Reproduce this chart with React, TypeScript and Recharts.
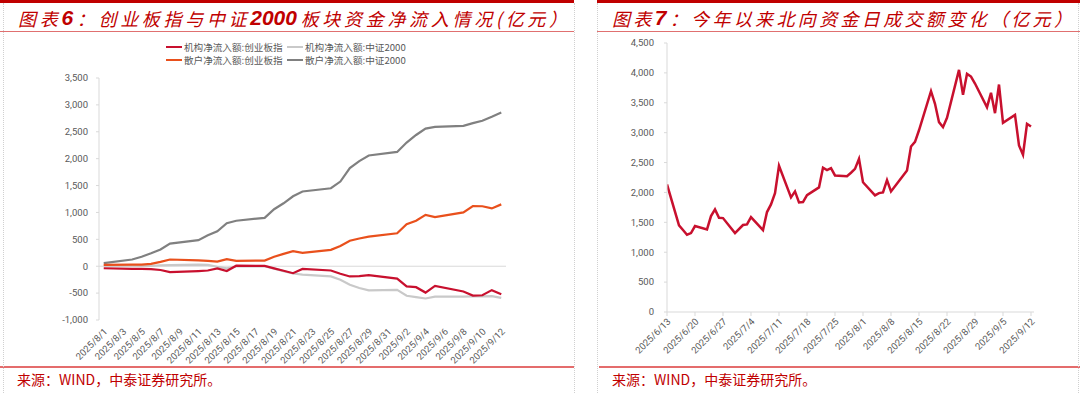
import React from "react";
import { LineChart, Line, XAxis, YAxis, ReferenceLine } from "recharts";

// ---------- Left chart data (亿元) ----------
const leftDates = [
  "2025/8/1", "2025/8/4", "2025/8/5", "2025/8/6", "2025/8/7", "2025/8/8",
  "2025/8/11", "2025/8/12", "2025/8/13", "2025/8/14", "2025/8/15",
  "2025/8/18", "2025/8/19", "2025/8/20", "2025/8/21", "2025/8/22",
  "2025/8/25", "2025/8/26", "2025/8/27", "2025/8/28", "2025/8/29",
  "2025/9/1", "2025/9/2", "2025/9/3", "2025/9/4", "2025/9/5",
  "2025/9/8", "2025/9/9", "2025/9/10", "2025/9/11", "2025/9/12",
];
const instChiNext = [-38, -48, -50, -55, -70, -110, -90, -80, -40, -90, 10, 5, -40, -85, -130, -50, -80, -140, -190, -185, -165, -230, -375, -390, -490, -365, -470, -545, -540, -445, -520];
const inst2000 = [10, 10, 5, 5, 15, 20, 30, 25, -10, -40, -5, 0, -45, -90, -135, -155, -190, -250, -345, -405, -450, -440, -550, -575, -600, -565, -565, -560, -560, -555, -590];
const retailChiNext = [25, 28, 30, 45, 80, 125, 110, 100, 85, 130, 100, 105, 175, 230, 280, 250, 305, 375, 475, 515, 550, 612, 780, 845, 955, 915, 1000, 1120, 1115, 1075, 1150];
const retail2000 = [56, 125, 175, 240, 310, 420, 485, 575, 650, 800, 845, 900, 1060, 1170, 1300, 1390, 1450, 1575, 1825, 1955, 2060, 2125, 2300, 2440, 2560, 2590, 2610, 2660, 2705, 2780, 2860];
const leftTickLabels = [
  "2025/8/1", "2025/8/3", "2025/8/5", "2025/8/7", "2025/8/9", "2025/8/11", "2025/8/13", "2025/8/15",
  "2025/8/17", "2025/8/19", "2025/8/21", "2025/8/23", "2025/8/25", "2025/8/27", "2025/8/29", "2025/8/31",
  "2025/9/2", "2025/9/4", "2025/9/6", "2025/9/8", "2025/9/10", "2025/9/12",
];
const leftYTicks = [-1000, -500, 0, 500, 1000, 1500, 2000, 2500, 3000, 3500];
const leftSeriesNames = ["机构净流入额:创业板指", "机构净流入额:中证2000", "散户净流入额:创业板指", "散户净流入额:中证2000"];

// ---------- Right chart data (亿元) ----------
const rightDates = [
  "2025/6/13", "2025/6/16", "2025/6/17", "2025/6/18", "2025/6/19", "2025/6/20",
  "2025/6/23", "2025/6/24", "2025/6/25", "2025/6/26", "2025/6/27",
  "2025/6/30", "2025/7/2", "2025/7/3", "2025/7/4",
  "2025/7/7", "2025/7/8", "2025/7/9", "2025/7/10", "2025/7/11",
  "2025/7/14", "2025/7/15", "2025/7/16", "2025/7/17", "2025/7/18",
  "2025/7/21", "2025/7/22", "2025/7/23", "2025/7/24", "2025/7/25",
  "2025/7/28", "2025/7/29", "2025/7/30", "2025/7/31", "2025/8/1",
  "2025/8/4", "2025/8/5", "2025/8/6", "2025/8/7", "2025/8/8",
  "2025/8/11", "2025/8/12", "2025/8/13", "2025/8/14", "2025/8/15",
  "2025/8/18", "2025/8/19", "2025/8/20", "2025/8/21", "2025/8/22",
  "2025/8/25", "2025/8/26", "2025/8/27", "2025/8/28", "2025/8/29",
  "2025/9/1", "2025/9/2", "2025/9/3", "2025/9/4", "2025/9/5",
  "2025/9/8", "2025/9/9", "2025/9/10", "2025/9/11", "2025/9/12",
];
const northboundTurnover = [
  2134, 1449, 1371, 1293, 1321, 1438,
  1382, 1605, 1716, 1577, 1571,
  1321, 1455, 1466, 1588,
  1371, 1672, 1800, 1989, 2446,
  1917, 2017, 1833, 1839, 1956,
  2084, 2413, 2374, 2407, 2284,
  2273, 2330, 2394, 2561, 2170,
  1950, 1989, 2000, 2207, 2017,
  2280, 2368, 2769, 2847, 3040,
  3694, 3482, 3176, 3092, 3248,
  4050, 3632, 3983, 3939, 3822,
  3426, 3666, 3326, 3805, 3165,
  3298, 2786, 2630, 3148, 3103,
];
const rightTickLabels = [
  "2025/6/13", "2025/6/20", "2025/6/27", "2025/7/4", "2025/7/11", "2025/7/18", "2025/7/25",
  "2025/8/1", "2025/8/8", "2025/8/15", "2025/8/22", "2025/8/29", "2025/9/5", "2025/9/12",
];
const rightYTicks = [0, 500, 1000, 1500, 2000, 2500, 3000, 3500, 4000, 4500];

// ---------- helpers ----------
const toUTC = (s: string) => {
  const [y, m, d] = s.split("/").map(Number);
  return Date.UTC(y, m - 1, d);
};
const dayOffset = (s: string, base: string) => Math.round((toUTC(s) - toUTC(base)) / 86400000);
const fmt = (v: number) => v.toLocaleString("en-US");

const leftBase = leftDates[0];
const leftData = leftDates.map((dt, i) => ({
  d: dayOffset(dt, leftBase),
  a: instChiNext[i],
  b: inst2000[i],
  c: retailChiNext[i],
  e: retail2000[i],
}));
const leftTicks = leftTickLabels.map((t) => dayOffset(t, leftBase));
const leftLabelMap: Record<number, string> = {};
leftTickLabels.forEach((t) => (leftLabelMap[dayOffset(t, leftBase)] = t));

const rightBase = rightDates[0];
const rightData = rightDates.map((dt, i) => ({ d: dayOffset(dt, rightBase), v: northboundTurnover[i] }));
const rightTicks = rightTickLabels.map((t) => dayOffset(t, rightBase));
const rightLabelMap: Record<number, string> = {};
rightTickLabels.forEach((t) => (rightLabelMap[dayOffset(t, rightBase)] = t));

const RED = "#C8102E";
const ORANGE = "#E9501C";
const DGRAY = "#808080";
const LGRAY = "#C9C9C9";
const TITLE_RED = "#C00000";
const AXIS = "#D9D9D9";
const TXT = "#595959";
const CJK = '"Noto Sans CJK SC", "Noto Sans", sans-serif';
const NUMF = 'Roboto, "Noto Sans", sans-serif';

type Unit = { t: string; b?: boolean };
const leftTitle: Unit[] = [
  { t: "图" }, { t: "表" }, { t: "6", b: true }, { t: "：" }, { t: "创" }, { t: "业" }, { t: "板" }, { t: "指" },
  { t: "与" }, { t: "中" }, { t: "证" }, { t: "2000", b: true }, { t: "板" }, { t: "块" }, { t: "资" }, { t: "金" },
  { t: "净" }, { t: "流" }, { t: "入" }, { t: "情" }, { t: "况" }, { t: "(" }, { t: "亿" }, { t: "元" }, { t: "）" },
];
const rightTitle: Unit[] = [
  { t: "图" }, { t: "表" }, { t: "7", b: true }, { t: "：" }, { t: "今" }, { t: "年" }, { t: "以" }, { t: "来" },
  { t: "北" }, { t: "向" }, { t: "资" }, { t: "金" }, { t: "日" }, { t: "成" }, { t: "交" }, { t: "额" },
  { t: "变" }, { t: "化" }, { t: "（" }, { t: "亿" }, { t: "元" }, { t: "）" },
];

function Title({ left, width, units }: { left: number; width: number; units: Unit[] }) {
  return (
    <div
      style={{
        position: "absolute", left, top: 8, width, height: 20, display: "flex",
        justifyContent: "space-between", alignItems: "center", color: TITLE_RED, whiteSpace: "nowrap",
      }}
    >
      {units.map((u, i) => (
        <span
          key={i}
          style={
            u.b
              ? { fontFamily: '"Liberation Sans", Arial, sans-serif', fontWeight: 700, fontSize: 21, fontStyle: "italic", lineHeight: "20px" }
              : { fontFamily: CJK, fontSize: 18, fontStyle: "italic", lineHeight: "20px" }
          }
        >
          {u.t}
        </span>
      ))}
    </div>
  );
}

const XTick = (map: Record<number, string>) => (props: any) => {
  const { x, y, payload } = props;
  return (
    <g transform={`translate(${x},${y})`}>
      <text x={0} y={0} dy={6} textAnchor="end" transform="rotate(-45)" fontSize={9.5} fill={TXT} fontFamily={NUMF}>
        {map[payload.value]}
      </text>
    </g>
  );
};

function LegendItem({ x, y, color, label }: { x: number; y: number; color: string; label: string }) {
  return (
    <div style={{ position: "absolute", left: x, top: y - 7, height: 14, display: "flex", alignItems: "center", whiteSpace: "nowrap" }}>
      <div style={{ width: 16, height: 2.5, background: color, marginRight: 2 }} />
      <span style={{ fontFamily: CJK, fontSize: 9.6, color: TXT, lineHeight: "14px" }}>{label}</span>
    </div>
  );
}

export default function App() {
  const colors = [RED, LGRAY, ORANGE, DGRAY];
  return (
    <div style={{ position: "absolute", left: 0, top: 0, width: 1080, height: 393, background: "#fff", overflow: "hidden" }}>
      {/* frames */}
      <div style={{ position: "absolute", left: 0, top: 0, width: 574, height: 3, background: TITLE_RED }} />
      <div style={{ position: "absolute", left: 597, top: 0, width: 483, height: 3, background: TITLE_RED }} />
      <div style={{ position: "absolute", left: 0, top: 31, width: 574, height: 1, background: "#E07070" }} />
      <div style={{ position: "absolute", left: 597, top: 31, width: 483, height: 1, background: "#E07070" }} />
      <div style={{ position: "absolute", left: 0, top: 366, width: 574, height: 2, background: "#E46C6C" }} />
      <div style={{ position: "absolute", left: 599, top: 366, width: 481, height: 2, background: "#E46C6C" }} />
      {[3, 574, 597, 1078].map((x) => (
        <div key={x} style={{ position: "absolute", left: x, top: 3, width: 0, height: 390, borderLeft: "1px dotted #D0D0D0" }} />
      ))}

      <Title left={18} width={549} units={leftTitle} />
      <Title left={612} width={460} units={rightTitle} />

      {/* legend */}
      {leftSeriesNames.map((n, i) => (
        <LegendItem key={n} x={i % 2 === 0 ? 166 : 287} y={i < 2 ? 47 : 60} color={colors[i]} label={n} />
      ))}

      {/* left chart */}
      <div style={{ position: "absolute", left: 0, top: 0 }}>
        <LineChart width={540} height={365} data={leftData} margin={{ top: 78, right: 34, bottom: 0, left: 0 }}>
          <XAxis
            dataKey="d" type="number" domain={[-0.5, 42.5]} ticks={leftTicks} interval={0}
            axisLine={false} tickLine={false} height={45} tick={XTick(leftLabelMap)} allowDataOverflow
          />
          <YAxis
            type="number" domain={[-1000, 3500]} ticks={leftYTicks} width={99} interval={0}
            axisLine={{ stroke: AXIS }} tickLine={{ stroke: AXIS }} tickSize={3} tickMargin={8}
            tickFormatter={fmt} tick={{ fontSize: 9.5, fill: TXT, fontFamily: NUMF }}
          />
          <ReferenceLine y={0} stroke={AXIS} strokeWidth={1} />
          <Line dataKey="b" stroke={LGRAY} strokeWidth={2.2} dot={false} isAnimationActive={false} />
          <Line dataKey="e" stroke={DGRAY} strokeWidth={2.2} dot={false} isAnimationActive={false} />
          <Line dataKey="c" stroke={ORANGE} strokeWidth={2.2} dot={false} isAnimationActive={false} />
          <Line dataKey="a" stroke={RED} strokeWidth={2.2} dot={false} isAnimationActive={false} />
        </LineChart>
      </div>

      {/* right chart */}
      <div style={{ position: "absolute", left: 560, top: 0 }}>
        <LineChart width={500} height={365} data={rightData} margin={{ top: 43, right: 26, bottom: 0, left: 0 }}>
          <XAxis
            dataKey="d" type="number" domain={[0, 91.75]} ticks={rightTicks} interval={0}
            axisLine={{ stroke: AXIS }} tickLine={{ stroke: AXIS }} tickSize={4} height={53}
            tick={XTick(rightLabelMap)} allowDataOverflow
          />
          <YAxis
            type="number" domain={[0, 4500]} ticks={rightYTicks} width={107} interval={0}
            axisLine={{ stroke: AXIS }} tickLine={{ stroke: AXIS }} tickSize={3} tickMargin={10}
            tickFormatter={fmt} tick={{ fontSize: 9.5, fill: TXT, fontFamily: NUMF }}
          />
          <Line dataKey="v" stroke={RED} strokeWidth={2.5} dot={false} isAnimationActive={false} />
        </LineChart>
      </div>

      {/* footers */}
      <div style={{ position: "absolute", left: 17, top: 370, fontFamily: CJK, fontSize: 14, color: TITLE_RED, lineHeight: "18px", whiteSpace: "nowrap" }}>
        来源：WIND，中泰证券研究所。
      </div>
      <div style={{ position: "absolute", left: 612, top: 370, fontFamily: CJK, fontSize: 14, color: TITLE_RED, lineHeight: "18px", whiteSpace: "nowrap" }}>
        来源：WIND，中泰证券研究所。
      </div>
    </div>
  );
}
